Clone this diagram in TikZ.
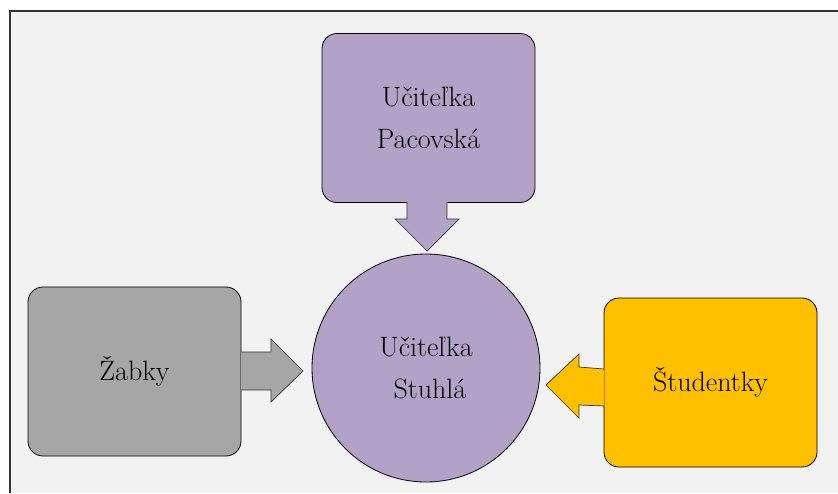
\documentclass[tikz,border=0pt]{standalone}
\usepackage{fontspec}
\definecolor{panelbg}{HTML}{F2F2F2}
\definecolor{framecol}{HTML}{333333}
\definecolor{lilac}{HTML}{B3A2C7}
\definecolor{stone}{HTML}{A6A6A6}
\definecolor{amber}{HTML}{FFC000}
\tikzset{
  card/.style={draw=black, line width=0.8pt, rounded corners=15pt,
    minimum width=213pt, minimum height=169pt, inner sep=0pt,
    align=center, font=\fontsize{28}{42}\selectfont},
  disc/.style={draw=black, line width=0.8pt, circle, fill=lilac,
    minimum size=228pt, inner sep=0pt, align=center,
    font=\fontsize{28}{42}\selectfont},
  blockarrow/.style={draw=black!80, line width=0.7pt, line join=miter}
}
\begin{document}
\begin{tikzpicture}[x=1pt, y=-1pt]
  \useasboundingbox (0,0) rectangle (838,493);
  % panel background and its frame
  \fill[panelbg] (10,11) rectangle (838,493);
  \draw[framecol, line width=1.4pt] (10,493) -- (10,11) -- (838,11);

  % boxes and centre disc
  \node[card, fill=lilac] (teacher) at (428.5,118) {Učiteľka\\Pacovská};
  \node[card, fill=stone] (frogs) at (134.5,371.5) {Žabky};
  \node[card, fill=amber] (students) at (710.5,382.5) {Študentky};
  \node[disc] (hub) at (426,368) {Učiteľka\\\hspace*{8pt}Stuhlá};

  % block arrows pointing at the disc
  \draw[blockarrow, fill=lilac]
    (407,202) -- (407,219) -- (395,219) -- (427,251) -- (459,219)
    -- (447,219) -- (447,202);
  \draw[blockarrow, fill=stone]
    (241,352) -- (271,352) -- (271,339) -- (303,371) -- (271,402)
    -- (271,390) -- (241,390);
  \draw[blockarrow, fill=amber]
    (604,369) -- (579,367) -- (579,354) -- (546,385) -- (579,418)
    -- (579,405) -- (604,406);
\end{tikzpicture}
\end{document}
